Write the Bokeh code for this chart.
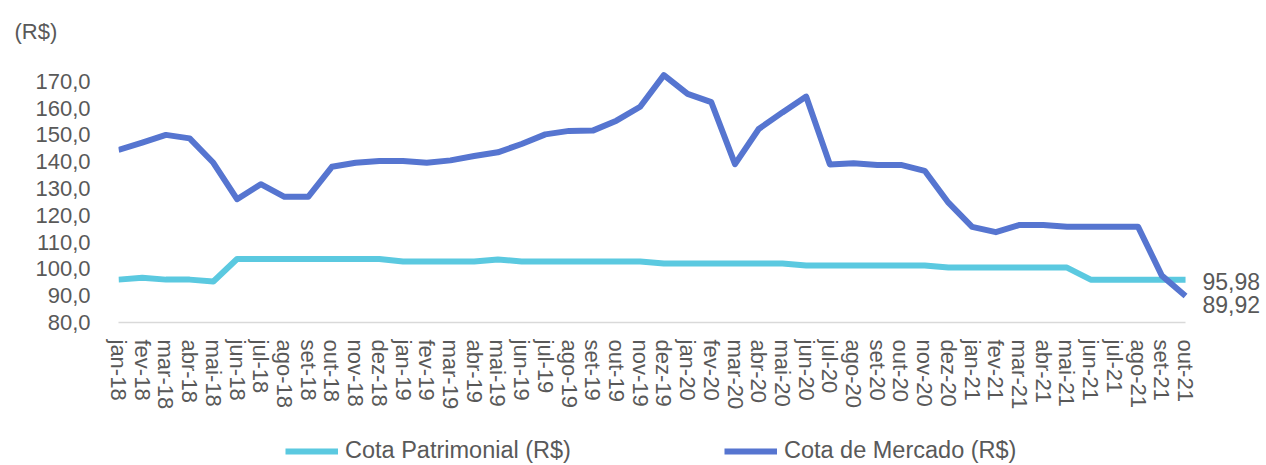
from bokeh.plotting import figure
from bokeh.layouts import column
from bokeh.models import Range1d, FixedTicker, Legend, LegendItem, Label, Title
from bokeh.embed import file_html
from bokeh.resources import INLINE

months = ["jan-18", "fev-18", "mar-18", "abr-18", "mai-18", "jun-18", "jul-18", "ago-18", "set-18", "out-18", "nov-18", "dez-18",
          "jan-19", "fev-19", "mar-19", "abr-19", "mai-19", "jun-19", "jul-19", "ago-19", "set-19", "out-19", "nov-19", "dez-19",
          "jan-20", "fev-20", "mar-20", "abr-20", "mai-20", "jun-20", "jul-20", "ago-20", "set-20", "out-20", "nov-20", "dez-20",
          "jan-21", "fev-21", "mar-21", "abr-21", "mai-21", "jun-21", "jul-21", "ago-21", "set-21", "out-21"]

cota_patrimonial = [96.0, 96.7, 96.0, 96.0, 95.3, 103.7, 103.7, 103.7, 103.7, 103.7, 103.7, 103.7,
                    102.8, 102.8, 102.8, 102.8, 103.5, 102.8, 102.8, 102.8, 102.8, 102.8, 102.8, 102.0,
                    102.0, 102.0, 102.0, 102.0, 102.0, 101.3, 101.3, 101.3, 101.3, 101.3, 101.3, 100.5,
                    100.5, 100.5, 100.5, 100.5, 100.5, 95.98, 95.98, 95.98, 95.98, 95.98]

cota_mercado = [144.4, 147.1, 150.0, 148.7, 139.6, 126.0, 131.6, 126.9, 126.9, 138.1, 139.6, 140.3,
                140.3, 139.6, 140.5, 142.1, 143.5, 146.6, 150.2, 151.5, 151.6, 155.3, 160.5, 172.3,
                165.3, 162.2, 139.1, 152.2, 158.4, 164.3, 139.0, 139.4, 138.8, 138.8, 136.6, 124.7,
                115.7, 113.7, 116.4, 116.4, 115.7, 115.7, 115.7, 115.7, 97.5, 89.92]

y_ticks = [80, 90, 100, 110, 120, 130, 140, 150, 160, 170]
y_tick_labels = ["80,0", "90,0", "100,0", "110,0", "120,0", "130,0", "140,0", "150,0", "160,0", "170,0"]

series_names = ["Cota Patrimonial (R$)", "Cota de Mercado (R$)"]
unit_label = "(R$)"

TEXT = "#595959"
FONT = "Liberation Sans"
C_PAT = "#5BC9E0"
C_MER = "#5675D0"

x = list(range(len(months)))
x_last = x[-1]

W = 1264
H_CHART, H_LEG = 430, 34

p = figure(width=W, height=H_CHART, output_backend="svg", toolbar_location=None,
           x_range=Range1d(0, x_last + 3.33), y_range=Range1d(80, 180),
           min_border_left=118, min_border_right=0, min_border_top=54, min_border_bottom=H_CHART - 322)
p.outline_line_color = None
p.xgrid.visible = False
p.ygrid.visible = False
p.background_fill_color = "white"
p.border_fill_color = "white"

r1 = p.line(x, cota_patrimonial, line_color=C_PAT, line_width=6, line_join="round")
r2 = p.line(x, cota_mercado, line_color=C_MER, line_width=6, line_join="round")

# x axis
xa = p.xaxis[0]
xa.bounds = (0, x_last)
xa.ticker = FixedTicker(ticks=x)
xa.major_label_overrides = {i: m for i, m in enumerate(months)}
xa.major_label_orientation = "vertical"
xa.major_label_text_font = FONT
xa.major_label_text_font_size = "22px"
xa.major_label_text_color = TEXT
xa.major_tick_line_color = None
xa.minor_tick_line_color = None
xa.major_tick_out = 0
xa.major_tick_in = 0
xa.major_label_standoff = 17
xa.axis_line_color = "#D9D9D9"
xa.axis_line_width = 1.5

# y axis
ya = p.yaxis[0]
ya.ticker = FixedTicker(ticks=y_ticks)
ya.major_label_overrides = {t: l for t, l in zip(y_ticks, y_tick_labels)}
ya.major_label_text_font = FONT
ya.major_label_text_font_size = "22px"
ya.major_label_text_color = TEXT
ya.axis_line_color = None
ya.major_tick_line_color = None
ya.minor_tick_line_color = None
ya.major_tick_out = 0
ya.major_tick_in = 0
ya.major_label_standoff = 28

# unit title
t = Title(text=unit_label, align="left", offset=-104, standoff=22,
          text_font=FONT, text_font_size="22px", text_color=TEXT, text_font_style="normal")
p.add_layout(t, "above")

# end labels
def fmt(v):
    return f"{v:.2f}".replace(".", ",")

p.add_layout(Label(x=x_last, y=cota_patrimonial[-1], x_offset=17, y_offset=-2, text=fmt(cota_patrimonial[-1]),
                   text_baseline="middle", text_font=FONT, text_font_size="23px", text_color=TEXT))
p.add_layout(Label(x=x_last, y=cota_mercado[-1], x_offset=17, y_offset=-9, text=fmt(cota_mercado[-1]),
                   text_baseline="middle", text_font=FONT, text_font_size="23px", text_color=TEXT))

# legend strip (its key lines use the same series, which fall outside this strip's range)
p2 = figure(width=W, height=H_LEG, output_backend="svg", toolbar_location=None,
            x_range=Range1d(0, 1), y_range=Range1d(0, 1),
            min_border_left=0, min_border_right=0, min_border_top=0, min_border_bottom=0)
p2.axis.visible = False
p2.xgrid.visible = False
p2.ygrid.visible = False
p2.outline_line_color = None
p2.background_fill_color = "white"
p2.border_fill_color = "white"
k1 = p2.line(x, cota_patrimonial, line_color=C_PAT, line_width=6)
k2 = p2.line(x, cota_mercado, line_color=C_MER, line_width=6)

legend = Legend(items=[LegendItem(label=series_names[0], renderers=[k1]),
                       LegendItem(label=series_names[1], renderers=[k2])],
                location=(167, 0), orientation="horizontal",
                glyph_width=53, glyph_height=20, label_standoff=7, spacing=153,
                padding=0, margin=0, border_line_color=None, background_fill_alpha=0,
                label_text_font=FONT, label_text_font_size="23.5px", label_text_color=TEXT)
p2.add_layout(legend, "center")

layout = column(p, p2, spacing=0)
open("out.html", "w").write(file_html(layout, INLINE))
